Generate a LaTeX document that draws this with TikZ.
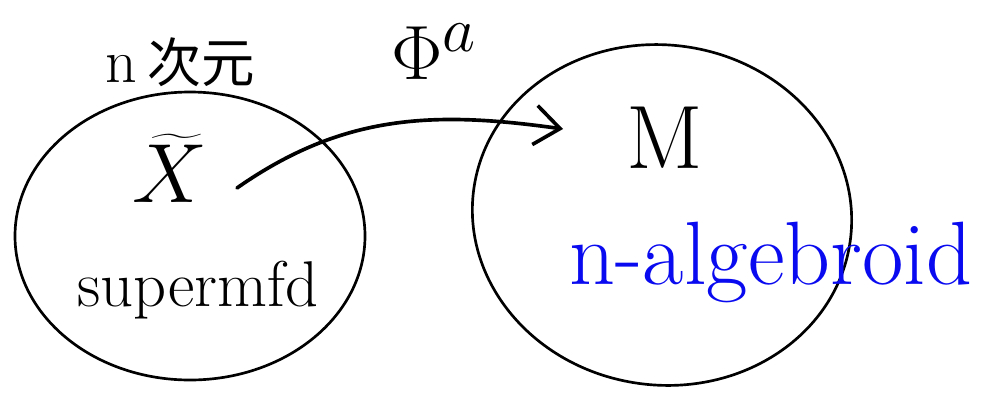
\documentclass[tikz,border=0pt]{standalone}
\usepackage{fontspec}
\newfontfamily\jp{Noto Sans CJK JP}
\usetikzlibrary{shapes.geometric,arrows.meta}
\definecolor{penblue}{RGB}{10,10,240}
\tikzset{
  blob/.style={draw=black, line width=1.9pt, ellipse, inner sep=0pt},
  lbl/.style={inner sep=0pt, anchor=center},
  arr/.style={line width=2.6pt, line cap=round, -{Straight Barb[length=18pt,width=28pt,line width=2.6pt]}}
}
\begin{document}
\begin{tikzpicture}[x=0.025cm,y=-0.025cm]
\useasboundingbox (0,0) rectangle (984,395);
\node[blob, minimum width=350*0.025cm, minimum height=288*0.025cm] (L) at (190,236) {};
\node[blob, minimum width=380*0.025cm, minimum height=340*0.025cm, rotate=-8] (R) at (662,215) {};
\node[lbl] (dim) at (180,62) {{\fontsize{44}{44}\selectfont n}\hspace{8pt}{\fontsize{38}{38}\selectfont\jp 次元}};
\node[lbl, scale=2.4] (X) at (170,168) {\Huge $\widetilde{X}$};
\node[lbl] (smfd) at (198,290) {\fontsize{46}{46}\selectfont supermfd};
\node[lbl, scale=2.2] (phi) at (434,52) {\Huge $\Phi^a$};
\node[lbl] (M) at (665,138) {\fontsize{64}{64}\selectfont M};
\node[lbl, text=penblue] (alg) at (771,262) {\fontsize{64}{64}\selectfont n-algebroid};
\draw[arr] ([shift={(67,20)}]X.center) to[out=35,in=172] ([shift={(-102,-9)}]M.center);
\end{tikzpicture}
\end{document}
